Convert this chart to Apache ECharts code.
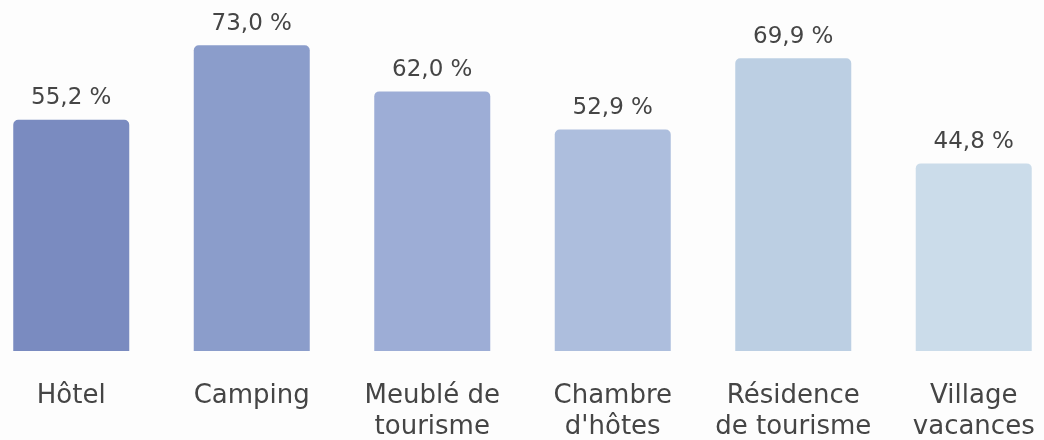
<!DOCTYPE html>
<html>
<head>
<meta charset="utf-8">
<script src="https://cdn.jsdelivr.net/npm/echarts@6/dist/echarts.min.js"></script>
<style>
  html, body { margin: 0; padding: 0; background: #fdfdfd; }
  #main { width: 1044px; height: 440px; }
</style>
</head>
<body>
<div id="main"></div>
<script>
  const categories = ['Hôtel', 'Camping', 'Meublé de\ntourisme', 'Chambre\nd\'hôtes', 'Résidence\nde tourisme', 'Village\nvacances']
  const values = [55.2, 73.0, 62.0, 52.9, 69.9, 44.8]
  const colors = ['#7a8bc0', '#8b9dcb', '#9dadd6', '#adbedd', '#bccfe3', '#cbdcea']

  const font = '"DejaVu Sans", sans-serif'

  const chart = echarts.init(document.getElementById('main'))
  chart.setOption({
    animation: false,
    grid: { left: -19, width: 1083, top: 16, bottom: 89, outerBoundsMode: 'none', containLabel: false },
    xAxis: {
      type: 'category',
      data: categories,
      axisLine: { show: false },
      axisTick: { show: false },
      axisLabel: {
        interval: 0,
        margin: 30,
        fontSize: 26,
        lineHeight: 31,
        color: '#454545',
        fontFamily: font,
      },
    },
    yAxis: {
      type: 'value',
      min: 0,
      max: 80,
      show: false,
      splitLine: { show: false },
    },
    series: [
      {
        type: 'bar',
        barWidth: 116,
        data: values.map((v, i) => ({ value: v, itemStyle: { color: colors[i] } })),
        itemStyle: { borderRadius: [5, 5, 0, 0] },
        label: {
          show: true,
          position: 'top',
          distance: 10,
          fontSize: 23,
          color: '#454545',
          fontFamily: font,
          formatter: ({ value }) => value.toFixed(1).replace('.', ',') + ' %',
        },
      },
    ],
  })
</script>
</body>
</html>
